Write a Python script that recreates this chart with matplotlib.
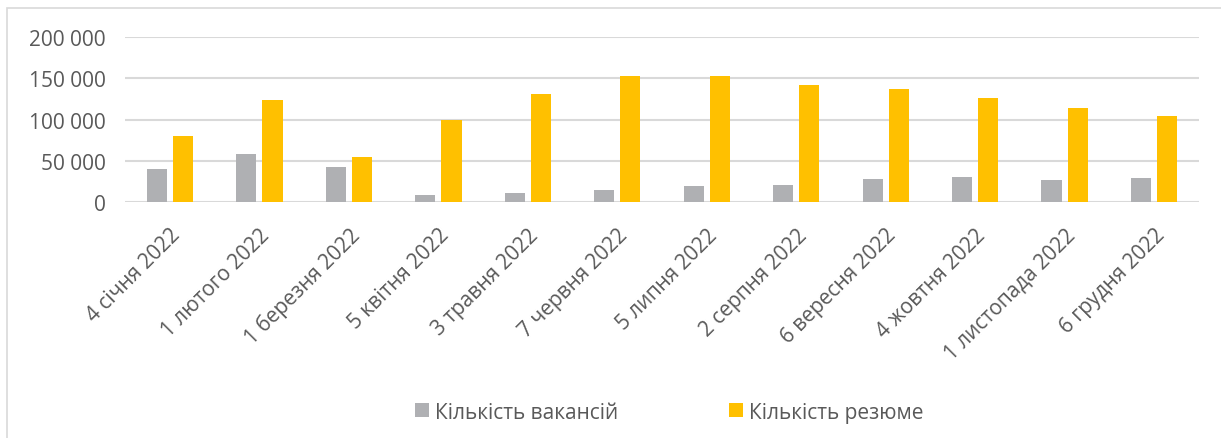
import matplotlib.pyplot as plt
import matplotlib.transforms as mtransforms
import numpy as np
from matplotlib.patches import Rectangle
from matplotlib.ticker import FuncFormatter

# data
months = ['4 січня 2022', '1 лютого 2022', '1 березня 2022', '5 квітня 2022',
          '3 травня 2022', '7 червня 2022', '5 липня 2022', '2 серпня 2022',
          '6 вересня 2022', '4 жовтня 2022', '1 листопада 2022', '6 грудня 2022']
vacancies = [40000, 58500, 42500, 8200, 10500, 14500, 19000, 21000, 28300, 29800, 27000, 28700]
resumes = [80000, 124000, 54500, 99000, 131000, 152300, 152800, 141500, 136500, 125500, 113500, 104500]
y_ticks = [0, 50000, 100000, 150000, 200000]

grey = '#AFB0B3'
gold = '#FFC000'
txt = '#595959'
grid = '#D9D9D9'
fs = 15

plt.rcParams['font.family'] = ['Open Sans', 'DejaVu Sans']

fig = plt.figure(figsize=(12.21, 4.39), dpi=100)
ax = fig.add_axes([0.1026, 0.5376, 0.8792, 0.3758])

x = np.arange(len(months))
w = 0.225
off = 0.146
b1 = ax.bar(x - off, vacancies, w, color=grey, label='Кількість вакансій', zorder=3)
b2 = ax.bar(x + off, resumes, w, color=gold, label='Кількість резюме', zorder=3)

ax.set_xlim(-0.5, len(months) - 0.5)
ax.set_ylim(0, 200000)
ax.set_yticks(y_ticks)
ax.yaxis.set_major_formatter(FuncFormatter(lambda v, p: '{:,.0f}'.format(v).replace(',', ' ')))
ax.grid(axis='y', color=grid, linewidth=1.5, zorder=0)
ax.set_xticks(x)
ax.set_xticklabels(months, rotation=45, ha='right', va='top', rotation_mode='anchor')
# nudge the rotated labels a few pixels left
shift = mtransforms.ScaledTranslation(-0.04, 0, fig.dpi_scale_trans)
for lab in ax.get_xticklabels():
    lab.set_transform(lab.get_transform() + shift)
for s in ax.spines.values():
    s.set_visible(False)
ax.tick_params(axis='y', length=0, pad=14, labelsize=fs, labelcolor=txt)
ax.tick_params(axis='x', length=0, pad=16, labelsize=fs, labelcolor=txt)

fig.legend(handles=[b1, b2], loc='center', bbox_to_anchor=(0.548, 0.059), ncol=2,
           frameon=False, fontsize=fs, labelcolor=txt, handlelength=0.67,
           handleheight=0.67, handletextpad=0.3, columnspacing=5.3)

# outer chart frame (runs off the right and bottom of the image)
fig.patches.append(Rectangle((7 / 1221, -0.1), 1.2, 1 - 9 / 439 + 0.1,
                             transform=fig.transFigure, fill=False,
                             edgecolor=grid, linewidth=1.2))

fig.savefig('out.png', dpi=100)
